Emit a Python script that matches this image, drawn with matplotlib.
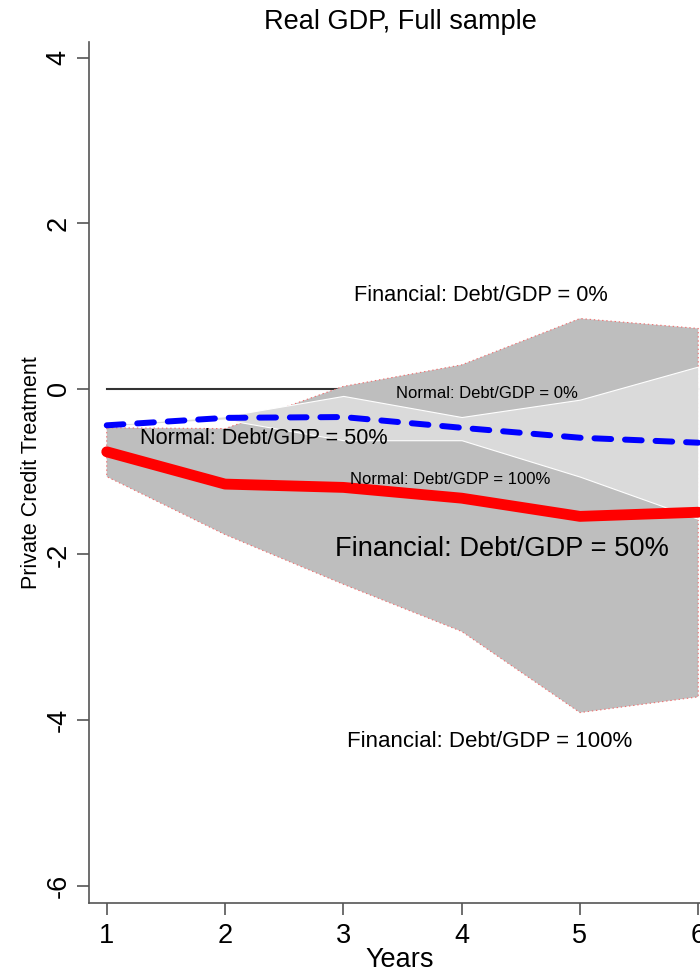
import numpy as np
import matplotlib
matplotlib.use("Agg")
import matplotlib.pyplot as plt

plt.rcParams['font.family'] = ['Liberation Sans', 'DejaVu Sans']
plt.rcParams['axes.unicode_minus'] = False
plt.rcParams['lines.scale_dashes'] = False

# response by horizon, evaluated at debt/GDP = 0%, 50%, 100%
years = [1, 2, 3, 4, 5, 6]
fin_0 = [-0.47, -0.48, 0.03, 0.29, 0.85, 0.73]
fin_50 = [-0.76, -1.15, -1.19, -1.32, -1.54, -1.49]
fin_100 = [-1.06, -1.76, -2.36, -2.93, -3.91, -3.72]
norm_0 = [-0.43, -0.33, -0.085, -0.34, -0.13, 0.27]
norm_50 = [-0.44, -0.35, -0.34, -0.47, -0.59, -0.65]
norm_100 = [-0.45, -0.37, -0.62, -0.62, -1.06, -1.57]

fig = plt.figure(figsize=(7, 9.73), dpi=100)
ax = fig.add_axes([89/700, 70/973, 611/700, 861/973])

# zero reference line, sits under the shaded ranges
ax.plot(years, np.zeros(len(years)), color='#333333', lw=1.5, zorder=1)

# financial recession range (0% to 100% debt)
ax.fill_between(years, fin_100, fin_0, facecolor='#bebebe', edgecolor='#f07070',
                linestyle=(0, (1, 2)), linewidth=0.8, zorder=2)
# normal recession range on top
ax.fill_between(years, norm_100, norm_0, facecolor='#dadada', edgecolor='white',
                linewidth=0.8, zorder=3)

ax.plot(years, fin_50, color='red', lw=7.8, solid_capstyle='round', zorder=4)
ax.plot(years, norm_50, color='blue', lw=4.3, dashes=(12, 10),
        dash_capstyle='round', zorder=5)

# curve labels
ax.text(4.16, 1.13, 'Financial: Debt/GDP = 0%', fontsize=15.7, ha='center', va='center', zorder=6)
ax.text(4.21, -0.06, 'Normal: Debt/GDP = 0%', fontsize=12, ha='center', va='center', zorder=6)
ax.text(2.33, -0.60, 'Normal: Debt/GDP = 50%', fontsize=15.6, ha='center', va='center', zorder=6)
ax.text(3.90, -1.09, 'Normal: Debt/GDP = 100%', fontsize=12, ha='center', va='center', zorder=6)
ax.text(4.34, -1.94, 'Financial: Debt/GDP = 50%', fontsize=19.6, ha='center', va='center', zorder=6)
ax.text(4.24, -4.26, 'Financial: Debt/GDP = 100%', fontsize=16, ha='center', va='center', zorder=6)

ax.set_xlim(0.85, 6.015)
ax.set_ylim(-6.21, 4.19)
ax.set_xticks(years)
ax.set_xticklabels([str(y) for y in years])
ax.set_yticks([-6, -4, -2, 0, 2, 4])
ax.set_yticklabels(['-6', '-4', '-2', '0', '2', '4'], rotation=90, va='center')

for side in ['top', 'right']:
    ax.spines[side].set_visible(False)
for side in ['left', 'bottom']:
    ax.spines[side].set_color('#555555')
    ax.spines[side].set_linewidth(1.2)
ax.tick_params(axis='both', length=8.5, width=1.2, color='#555555', labelsize=19.5)
ax.tick_params(axis='y', pad=4)
ax.tick_params(axis='x', pad=6)

fig.text(400/700, 1 - 22/973, 'Real GDP, Full sample', fontsize=19.5, ha='center', va='center')
fig.text(400/700, 1 - 960/973, 'Years', fontsize=19.5, ha='center', va='center')
fig.text(32/700, 1 - 473/973, 'Private Credit Treatment', fontsize=15.5, rotation=90,
         ha='center', va='center')

fig.savefig('out.png', dpi=100)
